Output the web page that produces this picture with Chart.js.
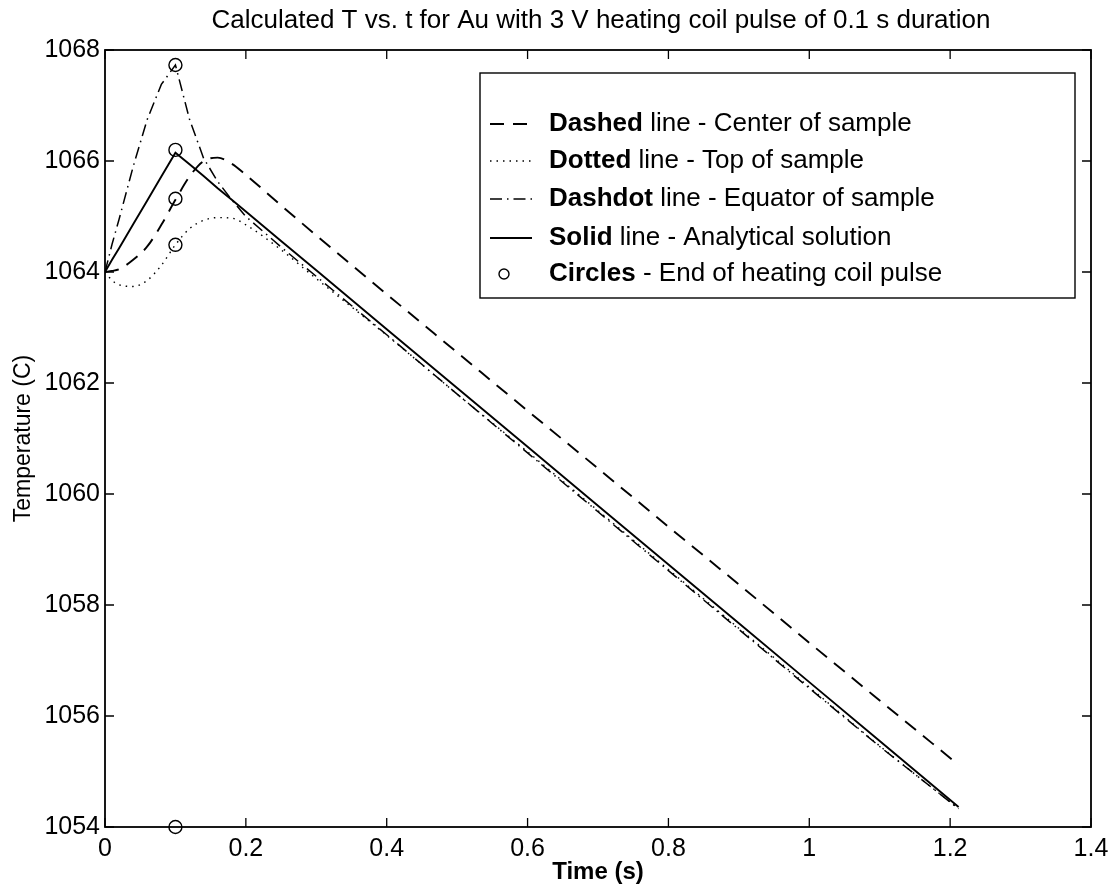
<!DOCTYPE html>
<html>
<head>
<meta charset="utf-8">
<script src="https://cdn.jsdelivr.net/npm/chart.js@4"></script>
<style>
  html, body { margin: 0; padding: 0; background: #fff; }
  #wrap { width: 1116px; height: 895px; }
</style>
</head>
<body>
<div id="wrap"><canvas id="plot"></canvas></div>
<script>
// time (s)
const times = [0, 0.01, 0.02, 0.04, 0.06, 0.08, 0.1, 0.12, 0.14, 0.16, 0.18, 0.2, 0.25, 0.3, 0.4, 0.5, 0.6, 0.7, 0.8, 0.9, 1.0, 1.1, 1.212];
// temperatures (C)
const centerT  = [1064.0, 1064.02, 1064.05, 1064.22, 1064.46, 1064.85, 1065.3, 1065.72, 1066.0, 1066.06, 1065.95, 1065.75, 1065.2, 1064.66, 1063.6, 1062.55, 1061.5, 1060.46, 1059.41, 1058.37, 1057.32, 1056.28, 1055.12];
const topT     = [1064.0, 1063.85, 1063.77, 1063.74, 1063.85, 1064.12, 1064.49, 1064.78, 1064.93, 1064.98, 1064.97, 1064.85, 1064.4, 1063.88, 1062.86, 1061.8, 1060.76, 1059.7, 1058.64, 1057.58, 1056.52, 1055.46, 1054.33];
const equatorT = [1064.0, 1064.5, 1064.95, 1065.9, 1066.75, 1067.38, 1067.73, 1066.75, 1066.05, 1065.63, 1065.3, 1065.0, 1064.45, 1063.92, 1062.87, 1061.8, 1060.74, 1059.68, 1058.62, 1057.56, 1056.5, 1055.45, 1054.33];
const analyticT = [1064.0, 1064.22, 1064.43, 1064.86, 1065.29, 1065.72, 1066.15, 1065.94, 1065.73, 1065.51, 1065.30, 1065.09, 1064.56, 1064.03, 1062.97, 1061.91, 1060.85, 1059.79, 1058.73, 1057.67, 1056.61, 1055.55, 1054.36];
// end of pulse markers
const pulseEndT = [0.1, 0.1, 0.1, 0.1, 0.1];
const pulseEndTemp = [1067.73, 1066.2, 1065.32, 1064.49, 1054];

const xTicks = [0, 0.2, 0.4, 0.6, 0.8, 1, 1.2, 1.4];
const yTicks = [1054, 1056, 1058, 1060, 1062, 1064, 1066, 1068];

const titleText = "Calculated T vs. t for Au with 3 V heating coil pulse of 0.1 s duration";
const legendBold = ["Dashed", "Dotted", "Dashdot", "Solid", "Circles"];
const legendRest = [" line - Center of sample", " line - Top of sample", " line - Equator of sample", " line - Analytical solution", " - End of heating coil pulse"];

const FONT = "'Liberation Sans', Arial, Helvetica, sans-serif";

function pts(xs, ys) {
  return xs.map((x, i) => ({ x: x, y: ys[i] }));
}

const dashes = [[14, 9], [1.5, 5], [12, 5, 1.5, 5], []];

// frame, inward ticks, title, legend
const matlabLook = {
  id: "matlabLook",
  afterDraw(chart) {
    const ctx = chart.ctx;
    const a = chart.chartArea;
    const xs = chart.scales.x, ys = chart.scales.y;
    ctx.save();
    ctx.strokeStyle = "#000";
    ctx.lineWidth = 1.8;
    ctx.setLineDash([]);
    ctx.strokeRect(a.left, a.top, a.right - a.left, a.bottom - a.top);
    const tl = 9;
    ctx.lineWidth = 1.3;
    ctx.beginPath();
    xTicks.forEach(v => {
      const px = xs.getPixelForValue(v);
      ctx.moveTo(px, a.bottom); ctx.lineTo(px, a.bottom - tl);
      ctx.moveTo(px, a.top); ctx.lineTo(px, a.top + tl);
    });
    yTicks.forEach(v => {
      const py = ys.getPixelForValue(v);
      ctx.moveTo(a.left, py); ctx.lineTo(a.left + tl, py);
      ctx.moveTo(a.right, py); ctx.lineTo(a.right - tl, py);
    });
    ctx.stroke();

    // title
    ctx.fillStyle = "#000";
    ctx.font = "26px " + FONT;
    ctx.textAlign = "center";
    ctx.textBaseline = "middle";
    ctx.fillText(titleText, a.left + 496, 21);

    // legend
    const bx = a.left + 375, by = a.top + 23, bw = 595, bh = 225;
    ctx.fillStyle = "#fff";
    ctx.fillRect(bx, by, bw, bh);
    ctx.lineWidth = 1.4;
    ctx.strokeStyle = "#000";
    ctx.strokeRect(bx, by, bw, bh);
    const rowY = [51, 88, 126, 165, 201];
    for (let i = 0; i < 5; i++) {
      const y = by + rowY[i];
      ctx.beginPath();
      if (i < 4) {
        ctx.setLineDash(dashes[i]);
        ctx.lineWidth = i === 1 || i === 2 ? 1.4 : 1.9;
        ctx.moveTo(bx + 10, y);
        ctx.lineTo(bx + 52, y);
        ctx.stroke();
      } else {
        ctx.setLineDash([]);
        ctx.lineWidth = 1.4;
        ctx.arc(bx + 24, y, 5, 0, Math.PI * 2);
        ctx.stroke();
      }
      ctx.setLineDash([]);
      ctx.fillStyle = "#000";
      ctx.textAlign = "left";
      ctx.font = "bold 26px " + FONT;
      ctx.fillText(legendBold[i], bx + 69, y);
      const w = ctx.measureText(legendBold[i]).width;
      ctx.font = "26px " + FONT;
      ctx.fillText(legendRest[i], bx + 69 + w, y);
    }
    ctx.restore();
  }
};

new Chart(document.getElementById("plot"), {
  type: "line",
  data: {
    datasets: [
      {
        label: "Center of sample",
        data: pts(times, centerT),
        borderColor: "#000", borderWidth: 1.9, borderDash: dashes[0],
        pointRadius: 0, cubicInterpolationMode: "monotone", fill: false,
      },
      {
        label: "Top of sample",
        data: pts(times, topT),
        borderColor: "#000", borderWidth: 1.4, borderDash: dashes[1],
        pointRadius: 0, cubicInterpolationMode: "monotone", fill: false,
      },
      {
        label: "Equator of sample",
        data: pts(times, equatorT),
        borderColor: "#000", borderWidth: 1.5, borderDash: dashes[2],
        pointRadius: 0, tension: 0, fill: false,
      },
      {
        label: "Analytical solution",
        data: pts(times, analyticT),
        borderColor: "#000", borderWidth: 1.9,
        pointRadius: 0, tension: 0, fill: false,
      },
      {
        label: "End of heating coil pulse",
        data: pts(pulseEndT, pulseEndTemp),
        showLine: false,
        pointStyle: "circle", pointRadius: 6.5,
        pointBorderColor: "#000", pointBackgroundColor: "rgba(0,0,0,0)", pointBorderWidth: 1.4,
        clip: false,
      },
    ],
  },
  options: {
    responsive: true,
    maintainAspectRatio: false,
    animation: false,
    layout: { padding: { left: 0, top: 50, right: 25, bottom: 0 } },
    plugins: {
      legend: { display: false },
      title: { display: false },
      tooltip: { enabled: false },
    },
    scales: {
      x: {
        type: "linear", min: 0, max: 1.4,
        afterBuildTicks: (s) => { s.ticks = xTicks.map(v => ({ value: v })); },
        afterFit: (s) => { s.height = 68; },
        grid: { display: false, drawTicks: false },
        border: { display: false },
        ticks: { color: "#000", font: { family: FONT, size: 25 }, padding: 7, maxRotation: 0, callback: (v) => String(v) },
        title: { display: true, text: "Time (s)", color: "#000", font: { family: FONT, size: 24, weight: "bold" }, padding: { top: 0, bottom: 8 } },
      },
      y: {
        type: "linear", min: 1054, max: 1068,
        afterBuildTicks: (s) => { s.ticks = yTicks.map(v => ({ value: v })); },
        afterFit: (s) => { s.width = 105; },
        grid: { display: false, drawTicks: false },
        border: { display: false },
        ticks: { color: "#000", font: { family: FONT, size: 25 }, padding: 5, callback: (v) => String(v) },
        title: { display: true, text: "Temperature (C)", color: "#000", font: { family: FONT, size: 23 }, padding: { top: 10, bottom: 0 } },
      },
    },
  },
  plugins: [matlabLook],
});
</script>
</body>
</html>
